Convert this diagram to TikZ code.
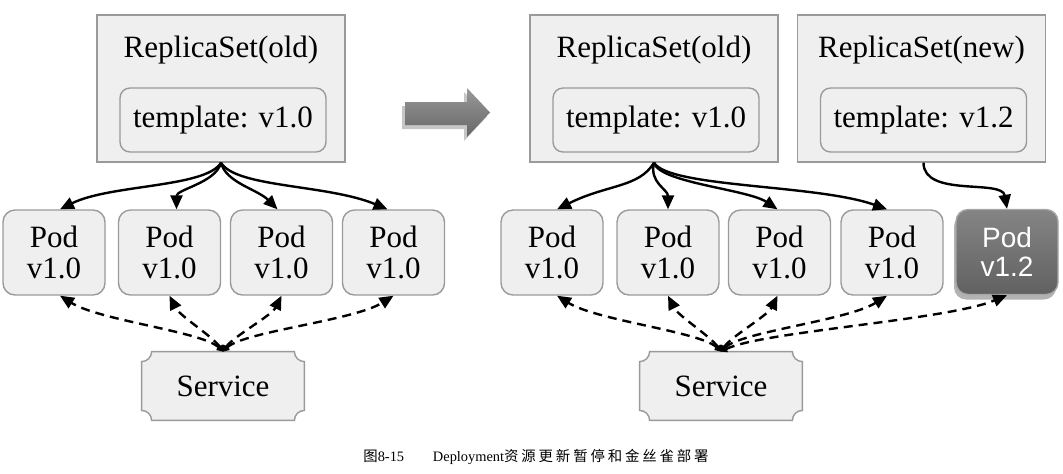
\documentclass[tikz,border=0pt]{standalone}
\usepackage{fontspec}
\setmainfont{Liberation Serif}
\newfontfamily\podfont{Liberation Sans}
\newfontfamily\cjkfont{Noto Sans CJK SC}
\newfontfamily\cjkwide[LetterSpace=20]{Noto Sans CJK SC}
\usepackage{xcolor}
\usepackage{tikz}
\usetikzlibrary{positioning,calc,arrows.meta,shadows,backgrounds}
\definecolor{boxfill}{HTML}{EFEFEF}
\definecolor{boxline}{HTML}{9A9A9A}
\tikzset{
  figfont/.style={font=\fontsize{15.5}{15.5}\selectfont},
  rsbox/.style={draw=boxline, fill=boxfill, line width=0.7pt, minimum width=124pt, minimum height=73.5pt, inner sep=0pt},
  tplbox/.style={draw=boxline, fill=boxfill, line width=0.7pt, rounded corners=5pt, minimum width=103pt, minimum height=32pt, inner sep=0pt},
  podbox/.style={draw=boxline, fill=boxfill, line width=0.7pt, rounded corners=6pt, minimum width=51pt, minimum height=42.5pt, align=center, inner sep=0pt},
  podnew/.style={podbox, draw=black!35, top color=black!48, bottom color=black!62, text=white, font=\podfont\fontsize{14}{14.5}\selectfont, drop shadow={shadow xshift=-1pt, shadow yshift=-2.5pt, opacity=0.6}},
  svcbox/.style={minimum width=81pt, minimum height=34pt, inner sep=0pt},
  svcframe/.style={draw=boxline, fill=boxfill, line width=0.7pt},
  ctrl/.style={-{Triangle[length=7pt,width=6pt]}, line width=1.2pt},
  svcline/.style={{Triangle[length=3pt,width=3.5pt]}-{Triangle[length=7pt,width=6pt]}, line width=1.2pt, dash pattern=on 4.5pt off 3pt},
  bigarrow/.style={top color=black!40, bottom color=black!60, draw=none, drop shadow={shadow xshift=-1.5pt, shadow yshift=-2pt, opacity=0.45}},
  capfont/.style={font=\fontsize{7.2}{8}\selectfont},
}
\newcommand{\serviceframe}[1]{%
  \path[svcframe] ($(#1.north west)+(5pt,0pt)$) -- ($(#1.north east)+(-5pt,0pt)$)
    arc[start angle=180, end angle=270, radius=5pt] -- ($(#1.south east)+(0pt,5pt)$)
    arc[start angle=90, end angle=180, radius=5pt] -- ($(#1.south west)+(5pt,0pt)$)
    arc[start angle=0, end angle=90, radius=5pt] -- ($(#1.north west)+(0pt,-5pt)$)
    arc[start angle=270, end angle=360, radius=5pt] -- cycle;}

\begin{document}
\begin{tikzpicture}[x=0.5pt, y=-0.5pt, figfont]
	\useasboundingbox (0,0) rectangle (1063,473);

	% Before: old replica set
	\node[rsbox] (rsold) at (221,88.5) {};
	\node (rsoldtxt) at (221,50) {ReplicaSet(old)};
	\node[tplbox] (tplold) at (223,120) {template: v1.0};
	\node[podbox] (podA) at (54,252.5) {Pod\\v1.0};
	\node[podbox] (podB) at (169.5,252.5) {Pod\\v1.0};
	\node[podbox] (podC) at (281.5,252.5) {Pod\\v1.0};
	\node[podbox] (podD) at (393.5,252.5) {Pod\\v1.0};
	\node[svcbox] (svcL) at (223,386) {Service};
	\begin{scope}[on background layer]
		\serviceframe{svcL}
	\end{scope}
	\draw[ctrl] (rsold.south) .. controls +(-15,25) and +(50,-25) .. ([xshift=3pt]podA.north);
	\draw[ctrl] (rsold.south) .. controls +(-5,20) and +(0,-20) .. ([xshift=3.5pt]podB.north);
	\draw[ctrl] (rsold.south) .. controls +(5,20) and +(-20,-20) .. ([xshift=-2pt]podC.north);
	\draw[ctrl] (rsold.south) .. controls +(15,25) and +(-60,-25) .. ([xshift=-3pt]podD.north);
	\draw[svcline] (svcL.north) .. controls +(-20,-20) and +(40,25) .. ([xshift=3pt]podA.south);
	\draw[svcline] (svcL.north) .. controls +(-10,-15) and +(10,20) .. (podB.south);
	\draw[svcline] (svcL.north) .. controls +(10,-15) and +(-10,20) .. (podC.south);
	\draw[svcline] (svcL.north) .. controls +(20,-20) and +(-40,25) .. (podD.south);

	% Transition arrow
	\path[bigarrow] (405,102) -- (467,102) -- (467,88) -- (490,112.5) -- (467,137) -- (467,125) -- (405,125) -- cycle;

	% After: old and new replica sets
	\node[rsbox] (rsoldR) at (654,88.5) {};
	\node (rsoldRtxt) at (654,50) {ReplicaSet(old)};
	\node[tplbox] (tploldR) at (656,120) {template: v1.0};
	\node[rsbox] (rsnew) at (921.5,88.5) {};
	\node (rsnewtxt) at (921.5,50) {ReplicaSet(new)};
	\node[tplbox] (tplnew) at (923.5,120) {template: v1.2};
	\node[podbox] (podE) at (552,252.5) {Pod\\v1.0};
	\node[podbox] (podF) at (668,252.5) {Pod\\v1.0};
	\node[podbox] (podG) at (779.5,252.5) {Pod\\v1.0};
	\node[podbox] (podH) at (892,252.5) {Pod\\v1.0};
	\node[podnew] (podN) at (1007,252) {Pod\\v1.2};
	\node[svcbox] (svcR) at (721,386) {Service};
	\begin{scope}[on background layer]
		\serviceframe{svcR}
	\end{scope}
	\draw[ctrl] (rsoldR.south) .. controls +(-15,25) and +(50,-25) .. ([xshift=2.5pt]podE.north);
	\draw[ctrl] (rsoldR.south) .. controls +(-5,20) and +(0,-20) .. (podF.north);
	\draw[ctrl] (rsoldR.south) .. controls +(5,20) and +(-30,-20) .. ([xshift=-1pt]podG.north);
	\draw[ctrl] (rsoldR.south) .. controls +(15,25) and +(-70,-25) .. ([xshift=-2.5pt]podH.north);
	\draw[ctrl] ([xshift=1pt]rsnew.south) .. controls +(0,35) and +(-5,-30) .. (podN.north);
	\draw[svcline] (svcR.north) .. controls +(-20,-20) and +(40,25) .. ([xshift=2.5pt]podE.south);
	\draw[svcline] (svcR.north) .. controls +(-10,-15) and +(10,20) .. (podF.south);
	\draw[svcline] (svcR.north) .. controls +(10,-15) and +(-10,20) .. ([xshift=-1pt]podG.south);
	\draw[svcline] (svcR.north) .. controls +(20,-20) and +(-40,25) .. ([xshift=-2.5pt]podH.south);
	\draw[svcline] (svcR.north) .. controls +(40,-20) and +(-60,25) .. (podN.south);

	% Caption
	\node[capfont] (caption) at (536,457) {{\cjkfont 图}8-15\hspace{2em}Deployment{\cjkwide 资源更新暂停和金丝雀部署}};
\end{tikzpicture}
\end{document}
